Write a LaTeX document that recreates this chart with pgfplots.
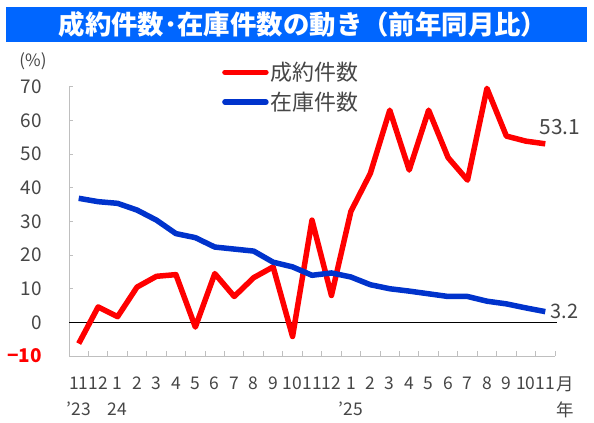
\documentclass[border=0pt]{standalone}
\usepackage{pgfplots}
\pgfplotsset{compat=1.18}
\usepackage{fontspec}
\setmainfont{Noto Sans CJK JP}
\definecolor{redl}{RGB}{255,0,0}
\definecolor{bluel}{RGB}{0,51,204}
\definecolor{titlebg}{RGB}{0,102,255}
\definecolor{txt}{RGB}{70,70,70}
\definecolor{axg}{RGB}{191,191,191}
\begin{document}
\begin{tikzpicture}
\path[fill=white] (0bp,0bp) rectangle (594bp,423bp);
\fill[titlebg] (6bp,381bp) rectangle (587bp,416bp);
\node[text=white, font=\fontsize{26.5}{30}\selectfont\bfseries, inner sep=0pt] at (303bp,398.5bp) {成約件数･在庫件数の動き（前年同月比）};
\node[text=txt, font=\fontsize{17}{19}\selectfont, inner sep=0pt] at (33bp,362bp) {(\%)};
\begin{axis}[
  at={(69bp,67bp)}, anchor=south west, scale only axis,
  width=486bp, height=269bp,
  xmin=-0.5, xmax=24.5, ymin=-10, ymax=70,
  clip=false,
  axis x line*=bottom, axis y line*=left,
  axis line style={draw=axg, line width=1bp, -},
  tick align=inside,
  ytick={-10,0,10,20,30,40,50,60,70},
  yticklabels={{\textcolor{redl}{\bfseries −10}},0,10,20,30,40,50,60,70},
  ytick style={draw=axg, line width=1bp},
  major tick length=4bp,
  yticklabel style={font=\fontsize{19}{22}\selectfont, text=txt, inner sep=0pt, xshift=-27bp, anchor=east},
  xtick={0,...,24},
  xticklabels={{11\\'23},12,{1\\24},2,3,4,5,6,7,8,9,10,11,12,{1\\'25},2,3,4,5,6,7,8,9,10,11},
  major x tick style={draw=none},
  minor xtick={-0.5,0.5,...,24.5},
  minor x tick style={draw=axg, line width=1bp},
  minor tick length=5bp,
  xticklabel style={align=center, font=\fontsize{17.5}{26}\selectfont, text=txt, inner sep=0pt, yshift=-21bp, anchor=north},
  legend style={draw=none, fill=none, at={(0.3148,1.10)}, anchor=north west,
    font=\fontsize{22}{24}\selectfont, text=txt, row sep=6bp, inner sep=0pt,
    cells={anchor=west}},
  legend image code/.code={\draw[#1, line width=5.5bp, line cap=round] (0bp,0bp) -- (41bp,0bp);},
]
\addplot[black, line width=1.5bp, forget plot] coordinates {(-0.5,0) (24.6,0)};
\addplot[redl, line width=5.5bp, line join=round] coordinates {
(0,-6.3) (1,4.6) (2,1.7) (3,10.5) (4,13.7) (5,14.2) (6,-1.4) (7,14.5) (8,7.7) (9,13.3)
(10,16.5) (11,-4.2) (12,30.4) (13,8.0) (14,33.0) (15,44.3) (16,63.1) (17,45.3) (18,63.1) (19,49.0)
(20,42.3) (21,69.6) (22,55.4) (23,53.9) (24,53.1)};
\addlegendentry{成約件数}
\addplot[bluel, line width=5.5bp, line join=round] coordinates {
(0,36.9) (1,35.9) (2,35.4) (3,33.4) (4,30.4) (5,26.4) (6,25.2) (7,22.4) (8,21.8) (9,21.2)
(10,17.9) (11,16.5) (12,14.0) (13,14.7) (14,13.5) (15,11.2) (16,10.0) (17,9.3) (18,8.5) (19,7.7)
(20,7.7) (21,6.3) (22,5.5) (23,4.3) (24,3.2)};
\addlegendentry{在庫件数}
\node[anchor=south west, inner sep=0pt, text=txt, font=\fontsize{21}{24}\selectfont, xshift=-6bp, yshift=9bp] at (axis cs:24,53.1) {53.1};
\node[anchor=west, inner sep=0pt, text=txt, font=\fontsize{20}{24}\selectfont, xshift=5bp] at (axis cs:24,3.2) {3.2};
\node[anchor=north, inner sep=0pt, align=center, text=txt, font=\fontsize{17.5}{26}\selectfont, yshift=-21bp] at (axis cs:25.05,-10) {月\\年};
\end{axis}
\end{tikzpicture}
\end{document}
